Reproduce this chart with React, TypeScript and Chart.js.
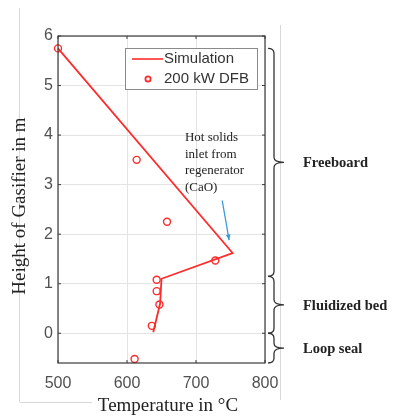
import React, { useEffect, useRef } from "react";
import { Chart, registerables } from "chart.js";

Chart.register(...registerables);

// Simulation profile (temperature °C, height m)
const simTemp = [500, 753, 650, 648, 638];
const simHeight = [5.75, 1.62, 1.1, 0.6, 0.02];

// 200 kW DFB measurements
const dfbTemp = [500, 614, 658, 728, 643, 643, 647, 636, 611];
const dfbHeight = [5.75, 3.5, 2.25, 1.47, 1.08, 0.85, 0.58, 0.15, -0.52];

const xTicks = [500, 600, 700, 800];
const yTicks = [0, 1, 2, 3, 4, 5, 6];

const legendLabels = ["Simulation", "200 kW DFB"];
const annotationLines = ["Hot solids", "inlet from", "regenerator", "(CaO)"];
const zoneLabels = ["Freeboard", "Fluidized bed", "Loop seal"];
const zoneBounds = [
  [5.75, 1.15],
  [1.15, 0],
  [0, -0.6],
];
const xTitle = "Temperature in °C";
const yTitle = "Height of Gasifier in m";

const RED = "#ff2a2a";

const overlay = {
  id: "overlay",
  afterDatasetsDraw(chart: any) {
    const { ctx, chartArea: a, scales } = chart;
    const xs = scales.x;
    const ys = scales.y;
    ctx.save();

    // faint scan frame lines
    ctx.strokeStyle = "#d8d8d8";
    ctx.lineWidth = 1;
    ctx.beginPath();
    ctx.moveTo(19.5, 8);
    ctx.lineTo(19.5, 402);
    ctx.moveTo(20, 402.5);
    ctx.lineTo(92, 402.5);
    ctx.moveTo(280.5, 25);
    ctx.lineTo(280.5, 400);
    ctx.stroke();

    // axes box
    ctx.strokeStyle = "#3a3a3a";
    ctx.lineWidth = 1.2;
    ctx.strokeRect(a.left, a.top, a.right - a.left, a.bottom - a.top);

    // inward ticks
    ctx.lineWidth = 1;
    ctx.beginPath();
    yTicks.forEach((v) => {
      const y = ys.getPixelForValue(v);
      ctx.moveTo(a.left, y);
      ctx.lineTo(a.left + 3, y);
      ctx.moveTo(a.right, y);
      ctx.lineTo(a.right - 3, y);
    });
    xTicks.forEach((v) => {
      const x = xs.getPixelForValue(v);
      ctx.moveTo(x, a.bottom);
      ctx.lineTo(x, a.bottom - 3);
      ctx.moveTo(x, a.top);
      ctx.lineTo(x, a.top + 3);
    });
    ctx.stroke();

    // legend
    const lx = 125, ly = 48, lw = 132, lh = 41;
    ctx.fillStyle = "#ffffff";
    ctx.fillRect(lx, ly, lw, lh);
    ctx.strokeStyle = "#8a8a8a";
    ctx.lineWidth = 1;
    ctx.strokeRect(lx + 0.5, ly + 0.5, lw, lh);
    ctx.strokeStyle = RED;
    ctx.lineWidth = 1.6;
    ctx.beginPath();
    ctx.moveTo(132, 59);
    ctx.lineTo(163, 59);
    ctx.stroke();
    ctx.beginPath();
    ctx.arc(148, 79, 2.6, 0, Math.PI * 2);
    ctx.lineWidth = 1.8;
    ctx.stroke();
    ctx.fillStyle = "#333";
    ctx.font = "15px 'Liberation Sans', Arial, sans-serif";
    ctx.textBaseline = "middle";
    ctx.textAlign = "left";
    ctx.fillText(legendLabels[0], 164, 59);
    ctx.fillText(legendLabels[1], 164, 79);

    // annotation text
    ctx.fillStyle = "#222";
    ctx.font = "13px 'Liberation Serif', 'Times New Roman', serif";
    const ax = xs.getPixelForValue(684);
    const ay = ys.getPixelForValue(3.94);
    annotationLines.forEach((t, i) => ctx.fillText(t, ax, ay + i * 16.5));

    // arrow
    const x1 = xs.getPixelForValue(738), y1 = ys.getPixelForValue(2.68);
    const x2 = xs.getPixelForValue(748), y2 = ys.getPixelForValue(1.88);
    ctx.strokeStyle = "#3b9bd8";
    ctx.fillStyle = "#3b9bd8";
    ctx.lineWidth = 1.3;
    ctx.beginPath();
    ctx.moveTo(x1, y1);
    ctx.lineTo(x2, y2);
    ctx.stroke();
    const ang = Math.atan2(y2 - y1, x2 - x1);
    ctx.beginPath();
    ctx.moveTo(x2, y2);
    ctx.lineTo(x2 - 6 * Math.cos(ang - 0.4), y2 - 6 * Math.sin(ang - 0.4));
    ctx.lineTo(x2 - 6 * Math.cos(ang + 0.4), y2 - 6 * Math.sin(ang + 0.4));
    ctx.closePath();
    ctx.fill();

    // braces + zone labels
    const x0 = 274, xe = 268, xt = 284;
    ctx.strokeStyle = "#333";
    ctx.lineWidth = 1.3;
    zoneBounds.forEach(([top, bot], i) => {
      const t = ys.getPixelForValue(top);
      const b = ys.getPixelForValue(bot);
      const m = (t + b) / 2;
      const r = Math.min(5, (b - t) / 4);
      ctx.beginPath();
      ctx.moveTo(xe, t);
      ctx.quadraticCurveTo(x0, t, x0, t + r);
      ctx.lineTo(x0, m - r);
      ctx.quadraticCurveTo(x0, m, xt, m);
      ctx.quadraticCurveTo(x0, m, x0, m + r);
      ctx.lineTo(x0, b - r);
      ctx.quadraticCurveTo(x0, b, xe, b);
      ctx.stroke();
      ctx.fillStyle = "#222";
      ctx.font = "bold 14.5px 'Liberation Serif', 'Times New Roman', serif";
      ctx.fillText(zoneLabels[i], 303, m + 1);
    });

    // axis titles
    ctx.fillStyle = "#222";
    ctx.font = "19px 'Liberation Serif', 'Times New Roman', serif";
    ctx.textAlign = "center";
    ctx.fillText(xTitle, 168, 406);
    ctx.translate(20, 206);
    ctx.rotate(-Math.PI / 2);
    ctx.fillText(yTitle, 0, 0);
    ctx.restore();
  },
};

export default function App() {
  const ref = useRef<HTMLCanvasElement>(null);
  useEffect(() => {
    if (!ref.current) return;
    const chart = new Chart(ref.current, {
      type: "scatter",
      data: {
        datasets: [
          {
            type: "line",
            label: legendLabels[0],
            data: simTemp.map((x, i) => ({ x, y: simHeight[i] })),
            borderColor: RED,
            borderWidth: 1.8,
            pointRadius: 0,
            fill: false,
            tension: 0,
            clip: false,
          } as any,
          {
            label: legendLabels[1],
            data: dfbTemp.map((x, i) => ({ x, y: dfbHeight[i] })),
            borderColor: RED,
            backgroundColor: "rgba(0,0,0,0)",
            borderWidth: 1.4,
            pointRadius: 3.5,
            clip: false,
          } as any,
        ],
      },
      options: {
        animation: false,
        responsive: false,
        layout: { padding: { top: 36, right: 129, left: 0, bottom: 0 } },
        plugins: { legend: { display: false }, tooltip: { enabled: false } },
        scales: {
          x: {
            type: "linear",
            min: 500,
            max: 800,
            afterBuildTicks: (s: any) => {
              s.ticks = xTicks.map((v) => ({ value: v }));
            },
            afterFit: (s: any) => {
              s.height = 54;
            },
            grid: { color: "#e4e4e4", drawTicks: false },
            border: { display: false },
            ticks: {
              padding: 11,
              color: "#505050",
              font: { family: "'Liberation Sans', Arial, sans-serif", size: 16 },
            },
          },
          y: {
            type: "linear",
            min: -0.6,
            max: 6,
            afterBuildTicks: (s: any) => {
              s.ticks = yTicks.map((v) => ({ value: v }));
            },
            afterFit: (s: any) => {
              s.width = 58;
            },
            grid: { color: "#e4e4e4", drawTicks: false },
            border: { display: false },
            ticks: {
              padding: 5,
              color: "#505050",
              font: { family: "'Liberation Sans', Arial, sans-serif", size: 16 },
            },
          },
        },
      },
      plugins: [overlay],
    } as any);
    return () => chart.destroy();
  }, []);
  return (
    <div style={{ position: "absolute", left: 0, top: 0, width: 394, height: 417, background: "#fff" }}>
      <canvas ref={ref} width={394} height={417} style={{ display: "block" }} />
    </div>
  );
}
